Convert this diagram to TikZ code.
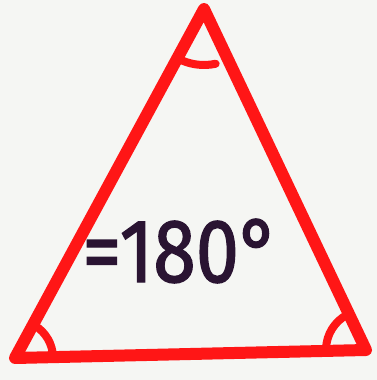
\documentclass[tikz,border=0pt]{standalone}
\usepackage{fontspec}
\setmainfont{Fira Sans}
\newfontfamily\inkfont{Fira Sans}[FakeBold=1.6]
\usepackage{xcolor}
\usepackage{tikz}
\definecolor{markerRed}{HTML}{FF1616}
\definecolor{markerInk}{HTML}{2A1432}
\definecolor{paperWhite}{HTML}{F5F6F3}

\begin{document}
\begin{tikzpicture}[
  x=1pt,y=1pt,
  edge/.style={draw=markerRed,line width=12pt,line cap=round,line join=round},
  anglemark/.style={draw=markerRed,line width=8pt,line cap=round},
  sumlabel/.style={text=markerInk,font=\inkfont\fontsize{90}{90}\selectfont,xscale=0.86,inner sep=0pt}
]
\fill[paperWhite] (0,0) rectangle (377,380);
\useasboundingbox (0,0) rectangle (377,380);
\coordinate (top) at (204,371);
\coordinate (left) at (15,22);
\coordinate (right) at (366,30);
\draw[edge] (left) -- (top) -- (right) -- cycle;
% angle marks
\draw[anglemark] ([shift={(241:56)}]top) arc[start angle=241,end angle=282,radius=56];
\draw[anglemark] ([shift={(2:38)}]left) arc[start angle=2,end angle=58,radius=38];
\draw[anglemark] ([shift={(118:40)}]right) arc[start angle=118,end angle=178,radius=40];
\node[sumlabel] (sum) at (181,129) {=180°};
\end{tikzpicture}
\end{document}
